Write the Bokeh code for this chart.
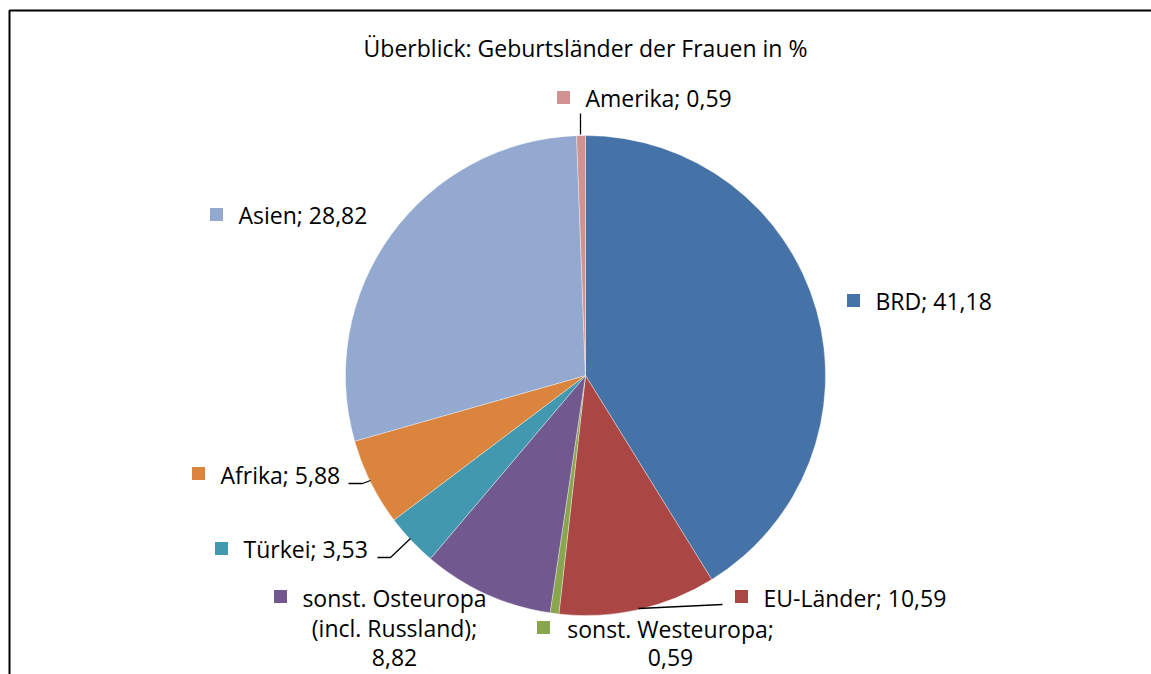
import math
from bokeh.plotting import figure
from bokeh.models import Range1d, ColumnDataSource
from bokeh.core.properties import value
from bokeh.embed import file_html
from bokeh.resources import INLINE

# ---- data ----
categories = ["BRD", "EU-Länder", "sonst. Westeuropa", "sonst. Osteuropa (incl. Russland)",
              "Türkei", "Afrika", "Asien", "Amerika"]
shares = [41.18, 10.59, 0.59, 8.82, 3.53, 5.88, 28.82, 0.59]
colors = ["#4572A7", "#AA4643", "#89A54E", "#71588F", "#4198AF", "#DB843D", "#93A9CF", "#D19392"]
title_text = "Überblick: Geburtsländer der Frauen in %"
# how each label wraps (category text parts; value appended to the last part)
label_parts = [["BRD"], ["EU-Länder"], ["sonst. Westeuropa;", ""],
               ["sonst. Osteuropa", "(incl. Russland);", ""],
               ["Türkei"], ["Afrika"], ["Asien"], ["Amerika"]]

# ---- layout (page pixel coordinates) ----
W, H = 1151, 674
FONT = "Open Sans"
LBL_SIZE = "23px"
def px(X): return X
def py(Y): return H - Y

cx, cy, R = 585, 375, 240
label_layout = [
    dict(m=(853, 300), tx=875, ty=300, align="left"),
    dict(m=(741, 596), tx=763, ty=597, align="left"),
    dict(m=(543, 627), tx=670, ty=628, align="center", dy=29),
    dict(m=(280, 596), tx=394, ty=597, align="center", dy=30),
    dict(m=(221, 548), tx=243, ty=548, align="left"),
    dict(m=(198, 473), tx=220, ty=474, align="left"),
    dict(m=(216, 214), tx=238, ty=214, align="left"),
    dict(m=(563, 97), tx=585, ty=97, align="left"),
]
leaders = [
    None,
    [(638, 608), (722, 604)],
    None,
    None,
    [(377, 557), (390, 557), (410, 538)],
    [(348, 483), (362, 483), (370, 480)],
    None,
    [(580, 113), (580, 134)],
]

p = figure(width=W, height=H, x_range=Range1d(0, W), y_range=Range1d(0, H),
           output_backend="svg", toolbar_location=None, min_border=0)
p.axis.visible = False
p.grid.visible = False
p.outline_line_color = None
p.background_fill_color = "white"

# frame (partly outside the visible area)
p.line([px(9), px(9), px(1160)], [py(690), py(10), py(10)], line_color="black", line_width=2)

# wedges
total = sum(shares)
starts, ends = [], []
cum = 0.0
for s in shares:
    starts.append(math.pi / 2 - 2 * math.pi * cum / total)
    cum += s
    ends.append(math.pi / 2 - 2 * math.pi * cum / total)
src = ColumnDataSource(dict(start=starts, end=ends, color=colors))
p.wedge(x=px(cx), y=py(cy), radius=R, start_angle="start", end_angle="end",
        direction="clock", fill_color="color", line_color="white", line_width=0.6,
        line_alpha=0.6, source=src)

# title
p.text(x=[px(585)], y=[py(47)], text=[title_text], text_font=value(FONT),
       text_font_size="23px", text_align="center", text_baseline="middle", text_color="#000000")

# labels
for i, (cat, val) in enumerate(zip(categories, shares)):
    lay = label_layout[i]
    vs = f"{val:.2f}".replace(".", ",")
    parts = list(label_parts[i])
    if parts[-1] == "":
        parts[-1] = vs
    else:
        parts[-1] = parts[-1] + "; " + vs
    dy = lay.get("dy", 30)
    xs = [px(lay["tx"])] * len(parts)
    ys = [py(lay["ty"] + k * dy) for k in range(len(parts))]
    p.text(x=xs, y=ys, text=parts, text_font=value(FONT), text_font_size=LBL_SIZE,
           text_align=lay["align"], text_baseline="middle", text_color="#000000")
    mx, my = lay["m"]
    p.scatter(x=[px(mx)], y=[py(my)], marker="square", size=13, fill_color=colors[i],
              line_color=None)
    if leaders[i]:
        p.line([px(a) for a, b in leaders[i]], [py(b) for a, b in leaders[i]],
               line_color="black", line_width=1.3)

open("out.html", "w").write(file_html(p, INLINE))
